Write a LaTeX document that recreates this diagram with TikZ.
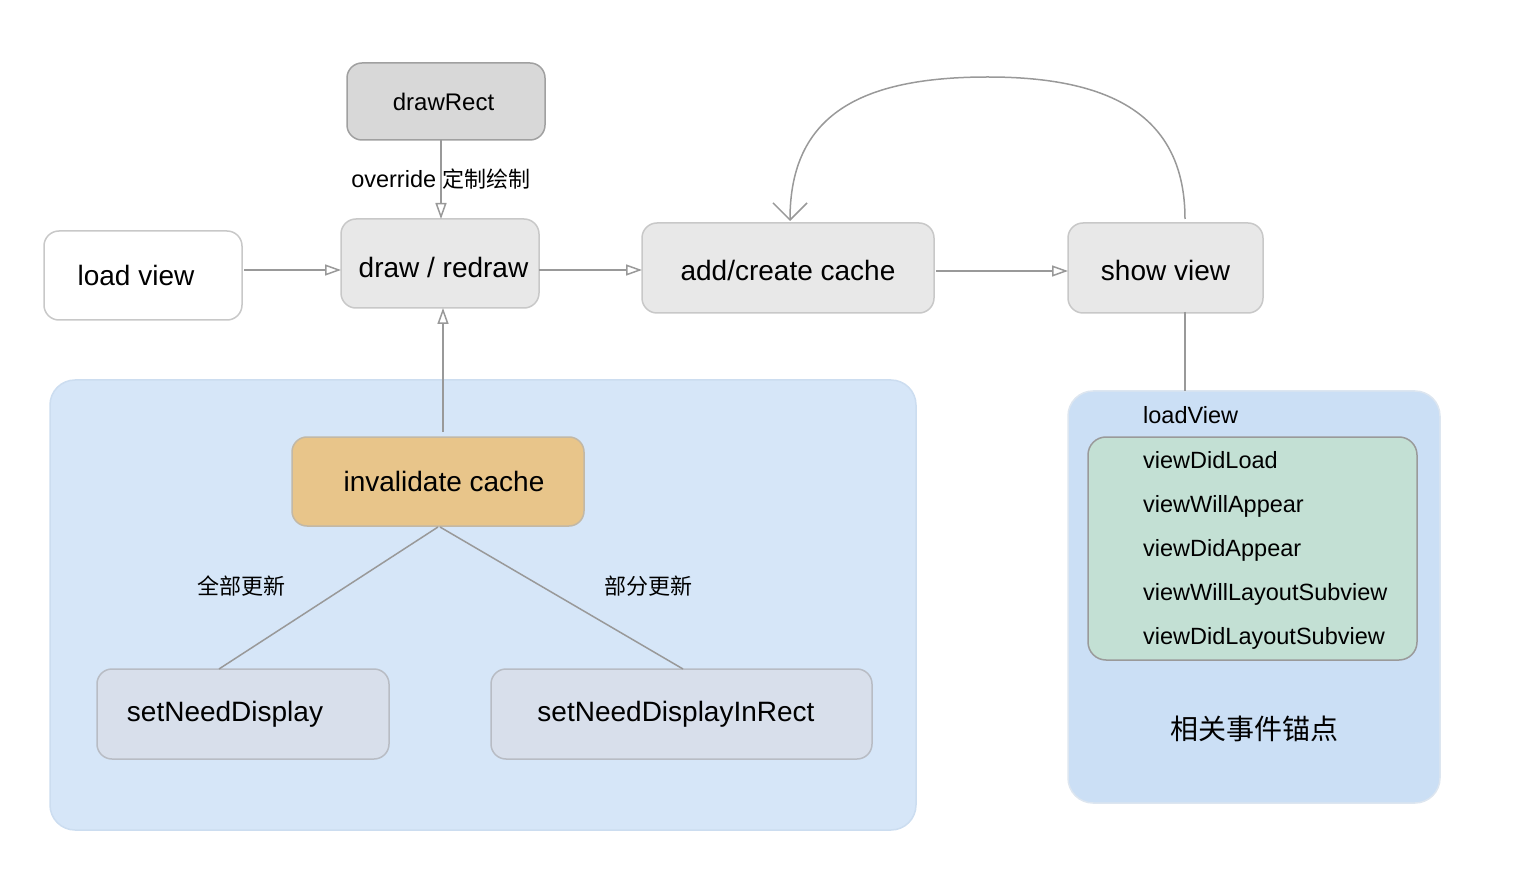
\documentclass[tikz,border=0pt]{standalone}
\usepackage{fontspec}
\setmainfont{Liberation Sans}
\newfontfamily\cjk{Noto Sans CJK SC}
\usetikzlibrary{arrows.meta}
\definecolor{lineg}{HTML}{999999}
\definecolor{boxg}{HTML}{E8E8E8}
\definecolor{boxgb}{HTML}{C8C8C8}
\definecolor{rectg}{HTML}{D8D8D8}
\definecolor{rectgb}{HTML}{A0A0A0}
\definecolor{blueL}{HTML}{D6E6F8}
\definecolor{blueLb}{HTML}{CCDDF0}
\definecolor{blueR}{HTML}{CBDFF5}
\definecolor{blueRb}{HTML}{DDE6F0}
\definecolor{greenb}{HTML}{C3E0D4}
\definecolor{greenbb}{HTML}{9A9A9A}
\definecolor{orng}{HTML}{E8C58A}
\definecolor{orngb}{HTML}{C2B8A6}
\definecolor{setb}{HTML}{D8DFEB}
\definecolor{setbb}{HTML}{B8BCC4}
\tikzset{
  bigfont/.style={font=\fontsize{28}{32}\selectfont},
  smallfont/.style={font=\fontsize{23.5}{27}\selectfont},
  rbox/.style={draw=boxgb, fill=boxg, line width=1.5pt, rounded corners=15pt, inner sep=0pt, outer sep=0pt, bigfont, text=black},
  cont/.style={line width=1.5pt, rounded corners=25pt, inner sep=0pt, outer sep=0pt},
  conn/.style={draw=lineg, line width=1.5pt},
  arr/.style={conn, -{Triangle[open,length=16pt,width=11pt]}},
  arrV/.style={conn, -{Straight Barb[length=17pt,width=34pt]}},
  item/.style={anchor=base west, smallfont, inner sep=0pt, text=black},
}
\begin{document}
\begin{tikzpicture}[x=1pt,y=-1pt]
\useasboundingbox (0,0) rectangle (1518,882);
% containers
\node[cont, draw=blueLb, fill=blueL, minimum width=866pt, minimum height=450pt] (leftc) at (483,605) {};
\node[cont, draw=blueRb, fill=blueR, minimum width=372pt, minimum height=412pt] (rightc) at (1254,597) {};
\node[cont, draw=greenbb, fill=greenb, rounded corners=18pt, minimum width=329pt, minimum height=223pt] (green) at (1252.5,548.5) {};
% boxes
\node[rbox, draw=rectgb, fill=rectg, font=\fontsize{24}{28}\selectfont, minimum width=198pt, minimum height=77pt] (drawrect) at (446,101.5) {\hspace*{-5pt}drawRect};
\node[rbox, fill=white, minimum width=198pt, minimum height=89pt] (load) at (143,275.5) {\hspace*{-14pt}load view};
\node[rbox, minimum width=198pt, minimum height=89pt] (draw) at (440,263.5) {\hspace*{7pt}draw / redraw\rule{0pt}{28.5pt}};
\node[rbox, minimum width=292pt, minimum height=90pt] (add) at (788,268) {add/create cache\rule{0pt}{24.5pt}};
\node[rbox, minimum width=195pt, minimum height=90pt] (show) at (1165.5,268) {show view\rule{0pt}{24.5pt}};
\node[rbox, draw=orngb, fill=orng, minimum width=292pt, minimum height=89pt] (inv) at (438,481.5) {\hspace*{12pt}invalidate cache};
\node[rbox, draw=setbb, fill=setb, minimum width=292pt, minimum height=90pt] (snd) at (243,714) {\hspace*{-36pt}setNeedDisplay};
\node[rbox, draw=setbb, fill=setb, minimum width=381pt, minimum height=90pt] (sndr) at (681.5,714) {\hspace*{-11pt}setNeedDisplayInRect};
% connectors
\draw[arr] ([yshift=5.5pt,xshift=2pt]load.east) -- ([yshift=-6.5pt]draw.west);
\draw[arr] ([yshift=-6.5pt]draw.east) -- ([yshift=-2pt]add.west);
\draw[arr] ([yshift=-3pt,xshift=2pt]add.east) -- ([yshift=-3pt]show.west);
\draw[arr] ([xshift=-5pt]drawrect.south) -- ([xshift=1pt]draw.north)
  node[midway, smallfont, text=black, inner sep=0pt] (ovr) {override \cjk\fontsize{22}{26}\selectfont 定制绘制};
\draw[arr] ([xshift=5pt,yshift=5pt]inv.north) -- ([xshift=3pt]draw.south);
\draw[conn] ([yshift=-1pt]inv.south) -- ([xshift=-24pt]snd.north);
\draw[conn] ([xshift=2pt,yshift=-1pt]inv.south) -- ([xshift=1.5pt]sndr.north);
\draw[conn] ([xshift=19.5pt,yshift=1pt]show.south) -- ([xshift=-69pt]rightc.north);
\coordinate (top) at (988,77);
\draw[arrV] ([xshift=19.5pt,yshift=4pt]show.north) .. controls (1185,115) and (1110,77) .. (top)
  .. controls (860,77) and (790,115) .. ([xshift=2pt,yshift=2pt]add.north);
% labels
\node[font=\cjk\fontsize{22}{26}\selectfont, inner sep=0pt] (lall) at (241,586) {全部更新};
\node[font=\cjk\fontsize{22}{26}\selectfont, inner sep=0pt] (lpart) at (648,586) {部分更新};
\node[item] (i0) at (1143,424) {loadView};
\node[item] (i1) at (1143,468) {viewDidLoad};
\node[item] (i2) at (1143,512) {viewWillAppear};
\node[item] (i3) at (1143,556) {viewDidAppear};
\node[item] (i4) at (1143,600) {viewWillLayoutSubview};
\node[item] (i5) at (1143,644) {viewDidLayoutSubview};
\node[font=\cjk\fontsize{28}{32}\selectfont, inner sep=0pt] (rtitle) at (1254,729) {相关事件锚点};
\end{tikzpicture}
\end{document}
